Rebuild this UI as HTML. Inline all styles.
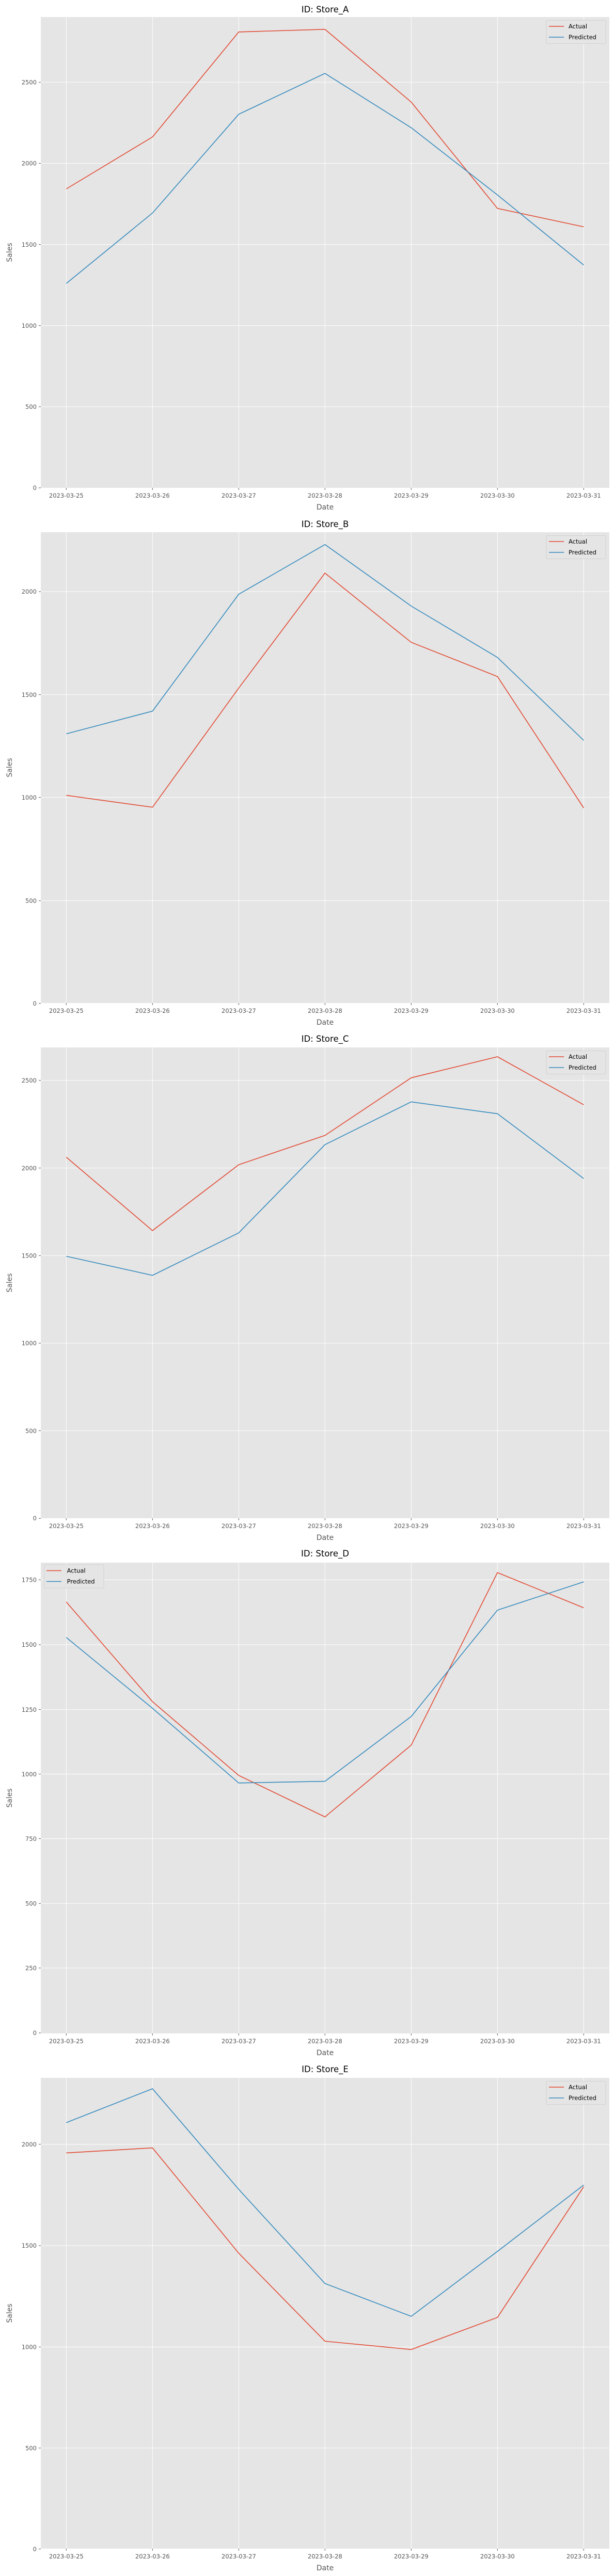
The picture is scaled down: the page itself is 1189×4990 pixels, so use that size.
<!DOCTYPE html>
<html><head><meta charset="utf-8"><style>
html,body{margin:0;padding:0;background:#fff}
svg{display:block}
text{font-family:"DejaVu Sans","Liberation Sans",sans-serif}
.tl{font-size:11.5px;fill:#555}
.yl{font-size:11.5px;fill:#555;text-anchor:end}
.xl{font-size:11.5px;fill:#555;text-anchor:middle}
.ttl{font-size:16.5px;fill:#000;text-anchor:middle}
.lab{font-size:14px;fill:#555;text-anchor:middle}
.grid{stroke:#fff;stroke-width:1}
.tk{stroke:#555;stroke-width:1}
.a{fill:none;stroke:#E24A33;stroke-width:1.6}
.p{fill:none;stroke:#348ABD;stroke-width:1.6}
.lg{font-size:11.5px;fill:#000}
</style></head><body>
<svg width="1189" height="4990" viewBox="0 0 1189 4990" xmlns="http://www.w3.org/2000/svg">
<defs>
<g id="xaxis">
  <rect x="79" y="33" width="1101" height="912" fill="#E5E5E5"/>
  <g class="grid">
    <line x1="128.3" y1="33" x2="128.3" y2="945"/><line x1="295.3" y1="33" x2="295.3" y2="945"/>
    <line x1="462.3" y1="33" x2="462.3" y2="945"/><line x1="629.3" y1="33" x2="629.3" y2="945"/>
    <line x1="796.3" y1="33" x2="796.3" y2="945"/><line x1="963.3" y1="33" x2="963.3" y2="945"/>
    <line x1="1130.3" y1="33" x2="1130.3" y2="945"/>
  </g>
  <g class="tk">
    <line x1="128.3" y1="945" x2="128.3" y2="949"/><line x1="295.3" y1="945" x2="295.3" y2="949"/>
    <line x1="462.3" y1="945" x2="462.3" y2="949"/><line x1="629.3" y1="945" x2="629.3" y2="949"/>
    <line x1="796.3" y1="945" x2="796.3" y2="949"/><line x1="963.3" y1="945" x2="963.3" y2="949"/>
    <line x1="1130.3" y1="945" x2="1130.3" y2="949"/>
  </g>
  <text class="xl" x="128.3" y="964">2023-03-25</text><text class="xl" x="295.3" y="964">2023-03-26</text>
  <text class="xl" x="462.3" y="964">2023-03-27</text><text class="xl" x="629.3" y="964">2023-03-28</text>
  <text class="xl" x="796.3" y="964">2023-03-29</text><text class="xl" x="963.3" y="964">2023-03-30</text>
  <text class="xl" x="1130.3" y="964">2023-03-31</text>
  <text class="lab" x="629.5" y="987">Date</text>
  <text class="lab" transform="translate(23,489) rotate(-90)">Sales</text>
</g>
<g id="legR">
  <rect x="1058" y="39.5" width="115" height="45" rx="2" fill="#E5E5E5" stroke="#ccc" stroke-width="0.8"/>
  <line x1="1063" y1="51" x2="1092" y2="51" stroke="#E24A33" stroke-width="1.6"/>
  <line x1="1063" y1="72" x2="1092" y2="72" stroke="#348ABD" stroke-width="1.6"/>
  <text class="lg" x="1101" y="55">Actual</text>
  <text class="lg" x="1101" y="76">Predicted</text>
</g>
</defs>

<!-- Panel A -->
<g transform="translate(0,0)">
  <use href="#xaxis"/>
  <g class="grid"><line x1="79" y1="787.9" x2="1180" y2="787.9"/><line x1="79" y1="630.7" x2="1180" y2="630.7"/><line x1="79" y1="473.6" x2="1180" y2="473.6"/><line x1="79" y1="316.4" x2="1180" y2="316.4"/><line x1="79" y1="159.3" x2="1180" y2="159.3"/></g>
  <g class="tk"><line x1="75" y1="945" x2="79" y2="945"/><line x1="75" y1="787.9" x2="79" y2="787.9"/><line x1="75" y1="630.7" x2="79" y2="630.7"/><line x1="75" y1="473.6" x2="79" y2="473.6"/><line x1="75" y1="316.4" x2="79" y2="316.4"/><line x1="75" y1="159.3" x2="79" y2="159.3"/></g>
  <text class="yl" x="71" y="949">0</text><text class="yl" x="71" y="792">500</text><text class="yl" x="71" y="635">1000</text><text class="yl" x="71" y="478">1500</text><text class="yl" x="71" y="320.5">2000</text><text class="yl" x="71" y="163.5">2500</text>
  <text class="ttl" x="629.5" y="24">ID: Store_A</text>
  <polyline class="a" points="128.3,366 295.3,265.3 462.3,61.9 629.3,56.8 796.3,197.7 963.3,403.7 1130.3,439.4"/>
  <polyline class="p" points="128.3,549.1 295.3,412.6 462.3,221.3 629.3,142.2 796.3,247.4 963.3,377.6 1130.3,513.4"/>
  <use href="#legR"/>
</g>

<!-- Panel B -->
<g transform="translate(0,998)">
  <use href="#xaxis"/>
  <g class="grid"><line x1="79" y1="746.8" x2="1180" y2="746.8"/><line x1="79" y1="546.6" x2="1180" y2="546.6"/><line x1="79" y1="347.6" x2="1180" y2="347.6"/><line x1="79" y1="148" x2="1180" y2="148"/></g>
  <g class="tk"><line x1="75" y1="945.8" x2="79" y2="945.8"/><line x1="75" y1="746.8" x2="79" y2="746.8"/><line x1="75" y1="546.6" x2="79" y2="546.6"/><line x1="75" y1="347.6" x2="79" y2="347.6"/><line x1="75" y1="148" x2="79" y2="148"/></g>
  <text class="yl" x="71" y="950">0</text><text class="yl" x="71" y="751">500</text><text class="yl" x="71" y="551">1000</text><text class="yl" x="71" y="352">1500</text><text class="yl" x="71" y="152">2000</text>
  <text class="ttl" x="629.5" y="23">ID: Store_B</text>
  <polyline class="a" points="128.3,542.7 295.3,565.7 462.3,334.8 629.3,112.2 796.3,246.2 963.3,312.5 1130.3,567"/>
  <polyline class="p" points="128.3,423.5 295.3,379.5 462.3,153.1 629.3,56.8 796.3,176 963.3,275.5 1130.3,436.2"/>
  <use href="#legR"/>
</g>

<!-- Panel C -->
<g transform="translate(0,1996)">
  <use href="#xaxis"/>
  <g class="grid"><line x1="79" y1="775.5" x2="1180" y2="775.5"/><line x1="79" y1="605.9" x2="1180" y2="605.9"/><line x1="79" y1="436.2" x2="1180" y2="436.2"/><line x1="79" y1="266.6" x2="1180" y2="266.6"/><line x1="79" y1="96.9" x2="1180" y2="96.9"/></g>
  <g class="tk"><line x1="75" y1="945.2" x2="79" y2="945.2"/><line x1="75" y1="775.5" x2="79" y2="775.5"/><line x1="75" y1="605.9" x2="79" y2="605.9"/><line x1="75" y1="436.2" x2="79" y2="436.2"/><line x1="75" y1="266.6" x2="79" y2="266.6"/><line x1="75" y1="96.9" x2="79" y2="96.9"/></g>
  <text class="yl" x="71" y="949">0</text><text class="yl" x="71" y="780">500</text><text class="yl" x="71" y="610">1000</text><text class="yl" x="71" y="440.5">1500</text><text class="yl" x="71" y="271">2000</text><text class="yl" x="71" y="101">2500</text>
  <text class="ttl" x="629.5" y="22">ID: Store_C</text>
  <polyline class="a" points="128.3,245.5 295.3,387.8 462.3,260.2 629.3,203.4 796.3,91.8 963.3,51 1130.3,144.1"/>
  <polyline class="p" points="128.3,437.5 295.3,474.5 462.3,392.2 629.3,221.3 796.3,138.4 963.3,161.4 1130.3,287"/>
  <use href="#legR"/>
</g>

<!-- Panel D -->
<g transform="translate(0,2994)">
  <use href="#xaxis"/>
  <g class="grid"><line x1="79" y1="818.2" x2="1180" y2="818.2"/><line x1="79" y1="693.2" x2="1180" y2="693.2"/><line x1="79" y1="567.6" x2="1180" y2="567.6"/><line x1="79" y1="442.6" x2="1180" y2="442.6"/><line x1="79" y1="317.6" x2="1180" y2="317.6"/><line x1="79" y1="192" x2="1180" y2="192"/><line x1="79" y1="66.3" x2="1180" y2="66.3"/></g>
  <g class="tk"><line x1="75" y1="944" x2="79" y2="944"/><line x1="75" y1="818.2" x2="79" y2="818.2"/><line x1="75" y1="693.2" x2="79" y2="693.2"/><line x1="75" y1="567.6" x2="79" y2="567.6"/><line x1="75" y1="442.6" x2="79" y2="442.6"/><line x1="75" y1="317.6" x2="79" y2="317.6"/><line x1="75" y1="192" x2="79" y2="192"/><line x1="75" y1="66.3" x2="79" y2="66.3"/></g>
  <text class="yl" x="71" y="948">0</text><text class="yl" x="71" y="822.5">250</text><text class="yl" x="71" y="697.5">500</text><text class="yl" x="71" y="572">750</text><text class="yl" x="71" y="447">1000</text><text class="yl" x="71" y="322">1250</text><text class="yl" x="71" y="196">1500</text><text class="yl" x="71" y="70.5">1750</text>
  <text class="ttl" x="629.5" y="21">ID: Store_D</text>
  <polyline class="a" points="128.3,109.1 295.3,302.3 462.3,445.2 629.3,525.5 796.3,386.5 963.3,52.3 1130.3,120.5"/>
  <polyline class="p" points="128.3,177.9 295.3,315.1 462.3,459.8 629.3,456.6 796.3,331 963.3,125 1130.3,70.2"/>
  <rect x="85.7" y="37" width="115.3" height="45" rx="2" fill="#E5E5E5" stroke="#ccc" stroke-width="0.8"/>
  <line x1="90" y1="48.5" x2="119" y2="48.5" stroke="#E24A33" stroke-width="1.6"/>
  <line x1="90" y1="69.5" x2="119" y2="69.5" stroke="#348ABD" stroke-width="1.6"/>
  <text class="lg" x="129.6" y="52.5">Actual</text>
  <text class="lg" x="129.6" y="73.5">Predicted</text>
</g>

<!-- Panel E -->
<g transform="translate(0,3992)">
  <use href="#xaxis"/>
  <g class="grid"><line x1="79" y1="750.1" x2="1180" y2="750.1"/><line x1="79" y1="554.4" x2="1180" y2="554.4"/><line x1="79" y1="358" x2="1180" y2="358"/><line x1="79" y1="161.7" x2="1180" y2="161.7"/></g>
  <g class="tk"><line x1="75" y1="945.7" x2="79" y2="945.7"/><line x1="75" y1="750.1" x2="79" y2="750.1"/><line x1="75" y1="554.4" x2="79" y2="554.4"/><line x1="75" y1="358" x2="79" y2="358"/><line x1="75" y1="161.7" x2="79" y2="161.7"/></g>
  <text class="yl" x="71" y="950">0</text><text class="yl" x="71" y="754.5">500</text><text class="yl" x="71" y="558.5">1000</text><text class="yl" x="71" y="362">1500</text><text class="yl" x="71" y="166">2000</text>
  <text class="ttl" x="629.5" y="22">ID: Store_E</text>
  <polyline class="a" points="128.3,178.4 295.3,168.7 462.3,372.7 629.3,543.2 796.3,559.3 963.3,497.1 1130.3,244.1"/>
  <polyline class="p" points="128.3,119.7 295.3,54.1 462.3,249 629.3,431.4 796.3,495 963.3,369.2 1130.3,240.6"/>
  <use href="#legR"/>
</g>
</svg>
</body></html>
